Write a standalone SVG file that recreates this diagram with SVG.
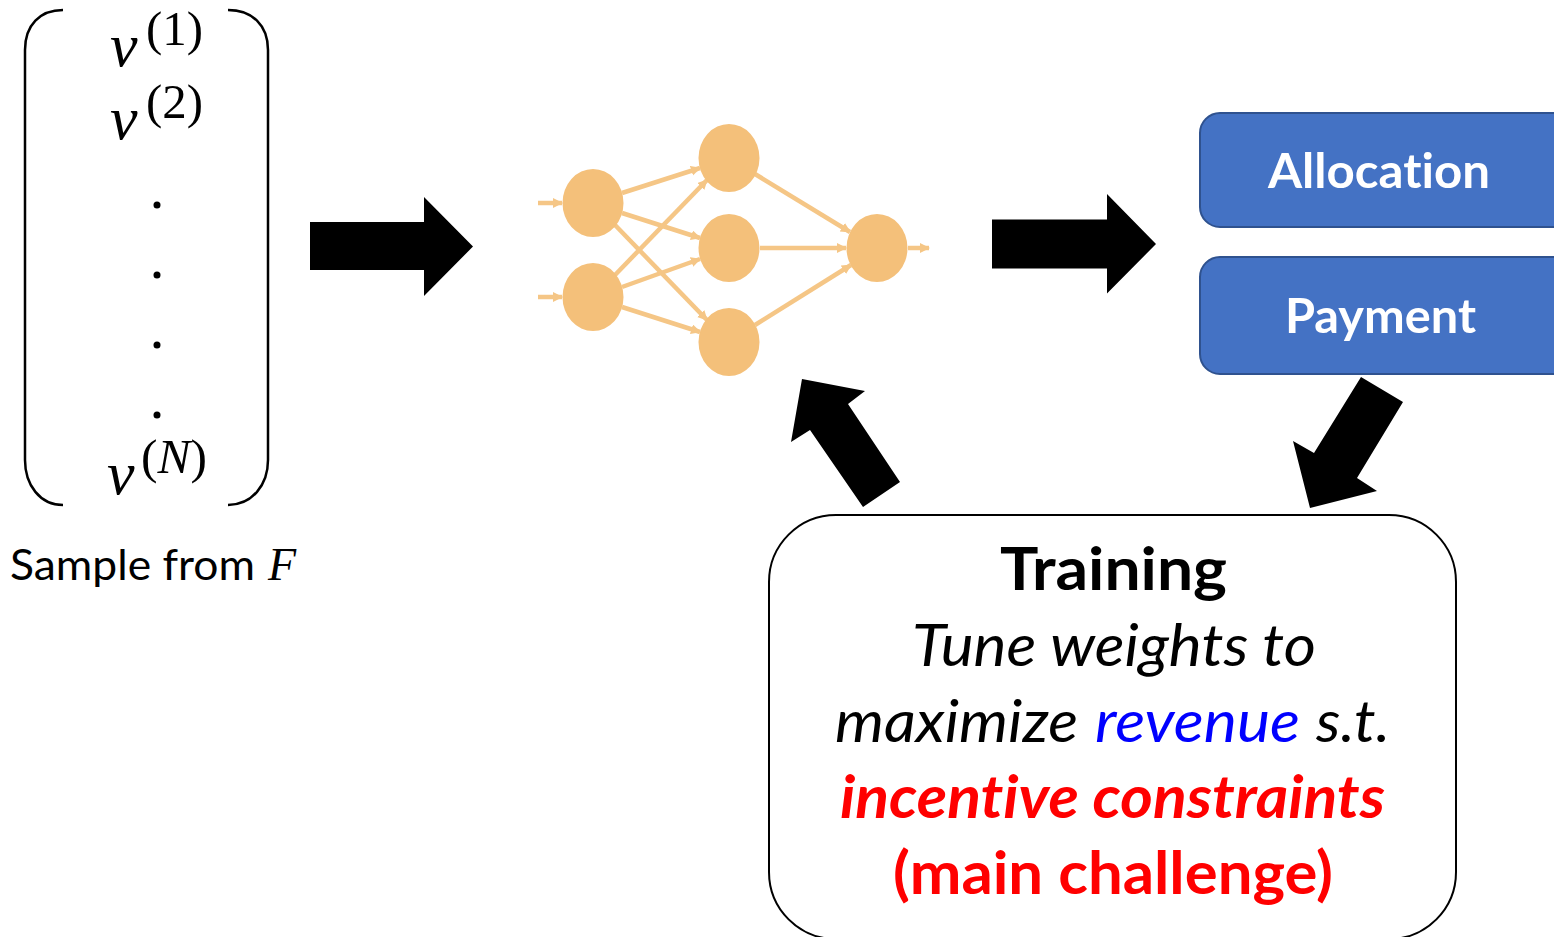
<svg xmlns="http://www.w3.org/2000/svg" width="1554" height="937" viewBox="0 0 1554 937">
<style>
  text { font-variant-ligatures: none; }
  .bracket { fill: none; stroke: #000; stroke-width: 2.5; }
  .math { font-family: "Liberation Serif", "DejaVu Serif", serif; fill: #000; }
  .mi { font-style: italic; }
  .lbl { font-family: Lato, "Open Sans", "Liberation Sans", sans-serif; }
  .blk { fill: #000; stroke: none; }
  .nn-node { fill: #F4C07A; }
  .nn-edge { stroke: #F5C686; stroke-width: 4.5; fill: none; marker-end: url(#nnhead); }
  .box { fill: #4472C4; stroke: #2F528F; stroke-width: 2; }
  .boxtxt { font-family: Lato, "Open Sans", "Liberation Sans", sans-serif; font-weight: bold; fill: #fff; font-size: 48px; }
  .train { fill: #fff; stroke: #000; stroke-width: 2; }
  .tt { font-family: Lato, "Open Sans", "Liberation Sans", sans-serif; font-size: 59px; }
</style>
<defs>
  <marker id="nnhead" markerUnits="userSpaceOnUse" markerWidth="12" markerHeight="12" refX="9" refY="5" orient="auto">
    <path d="M0,0 L10,5 L0,10 z" fill="#F5C686"/>
  </marker>
</defs>

<g id="samples">
  <path class="bracket" d="M63,10 C40,10 25,25 25,50 V460 C25,485 40,505 63,505"/>
  <path class="bracket" d="M228,10 C252,10 268,25 268,50 V460 C268,485 252,505 228,505"/>
  <text class="math mi" x="110" y="66" font-size="62">v</text>
  <text class="math" x="146" y="45" font-size="48" textLength="57" lengthAdjust="spacingAndGlyphs">(1)</text>
  <text class="math mi" x="110" y="139" font-size="62">v</text>
  <text class="math" x="146" y="118" font-size="48" textLength="57" lengthAdjust="spacingAndGlyphs">(2)</text>
  <circle cx="157" cy="205" r="3.5" fill="#000"/>
  <circle cx="157" cy="275" r="3.5" fill="#000"/>
  <circle cx="157" cy="345" r="3.5" fill="#000"/>
  <circle cx="157" cy="415" r="3.5" fill="#000"/>
  <text class="math mi" x="107" y="494" font-size="62">v</text>
  <text class="math" x="141" y="473" font-size="48" textLength="66" lengthAdjust="spacingAndGlyphs">(<tspan class="mi">N</tspan>)</text>
  <text class="lbl" x="10" y="580" font-size="43" textLength="245" lengthAdjust="spacingAndGlyphs">Sample from</text>
  <text class="math mi" x="268" y="580" font-size="46">F</text>
</g>

<g id="connectors">
  <path class="blk" d="M310,222 H424 V197 L473,246.5 L424,296 V270 H310 Z"/>
  <path class="blk" d="M992,219.5 H1107 V194 L1156,244 L1107,293.5 V268.5 H992 Z"/>
  <path class="blk" d="M802,379 L865,391 L848,404 L900,482 L863,507 L810,430 L791,442 Z"/>
  <path class="blk" d="M1361,377 L1403,402 L1357,478 L1377,491 L1310,508 L1293,441 L1314,453 Z"/>
</g>

<g id="neural-net">
  <g id="nn-edges">
    <line class="nn-edge" x1="538" y1="203" x2="562" y2="203"/>
    <line class="nn-edge" x1="538" y1="297" x2="562" y2="297"/>
    <line class="nn-edge" x1="622" y1="193" x2="700" y2="168"/>
    <line class="nn-edge" x1="622" y1="213" x2="700" y2="238"/>
    <line class="nn-edge" x1="615" y1="225" x2="707" y2="320"/>
    <line class="nn-edge" x1="615" y1="275" x2="707" y2="180"/>
    <line class="nn-edge" x1="622" y1="287" x2="700" y2="259"/>
    <line class="nn-edge" x1="622" y1="307" x2="700" y2="332"/>
    <line class="nn-edge" x1="755" y1="174" x2="850" y2="232"/>
    <line class="nn-edge" x1="760" y1="248" x2="846" y2="248"/>
    <line class="nn-edge" x1="755" y1="325" x2="851" y2="265"/>
    <line class="nn-edge" x1="908" y1="248" x2="929" y2="248"/>
  </g>
  <ellipse class="nn-node" cx="593" cy="203" rx="30.5" ry="34"/>
  <ellipse class="nn-node" cx="593" cy="297" rx="30.5" ry="34"/>
  <ellipse class="nn-node" cx="729" cy="158" rx="30.5" ry="34"/>
  <ellipse class="nn-node" cx="729" cy="248" rx="30.5" ry="34"/>
  <ellipse class="nn-node" cx="729" cy="342" rx="30.5" ry="34"/>
  <ellipse class="nn-node" cx="877" cy="248" rx="30.5" ry="34"/>
</g>

<g id="allocation">
  <rect class="box" x="1200" y="113" width="400" height="114" rx="20"/>
  <text class="boxtxt" x="1268" y="188" textLength="222" lengthAdjust="spacingAndGlyphs">Allocation</text>
</g>

<g id="payment">
  <rect class="box" x="1200" y="257" width="400" height="117" rx="20"/>
  <text class="boxtxt" x="1285" y="333" textLength="191" lengthAdjust="spacingAndGlyphs">Payment</text>
</g>

<g id="training">
  <rect class="train" x="769" y="515" width="687" height="424" rx="67"/>
  <text class="tt" x="1000" y="590" font-weight="bold" fill="#000" textLength="227" lengthAdjust="spacingAndGlyphs">Training</text>
  <text class="tt" x="912" y="666" font-style="italic" fill="#000" textLength="404" lengthAdjust="spacingAndGlyphs">Tune weights to</text>
  <text class="tt" x="835" y="742" font-style="italic" fill="#000" textLength="243" lengthAdjust="spacingAndGlyphs">maximize</text>
  <text class="tt" x="1095" y="742" font-style="italic" fill="#0000FF" textLength="205" lengthAdjust="spacingAndGlyphs">revenue</text>
  <text class="tt" x="1316" y="742" font-style="italic" fill="#000" textLength="74" lengthAdjust="spacingAndGlyphs">s.t.</text>
  <text class="tt" x="840" y="818" font-style="italic" font-weight="bold" fill="#FF0000" textLength="545" lengthAdjust="spacingAndGlyphs">incentive constraints</text>
  <text class="tt" x="893" y="894" font-weight="bold" fill="#FF0000" textLength="440" lengthAdjust="spacingAndGlyphs">(main challenge)</text>
</g>
</svg>
